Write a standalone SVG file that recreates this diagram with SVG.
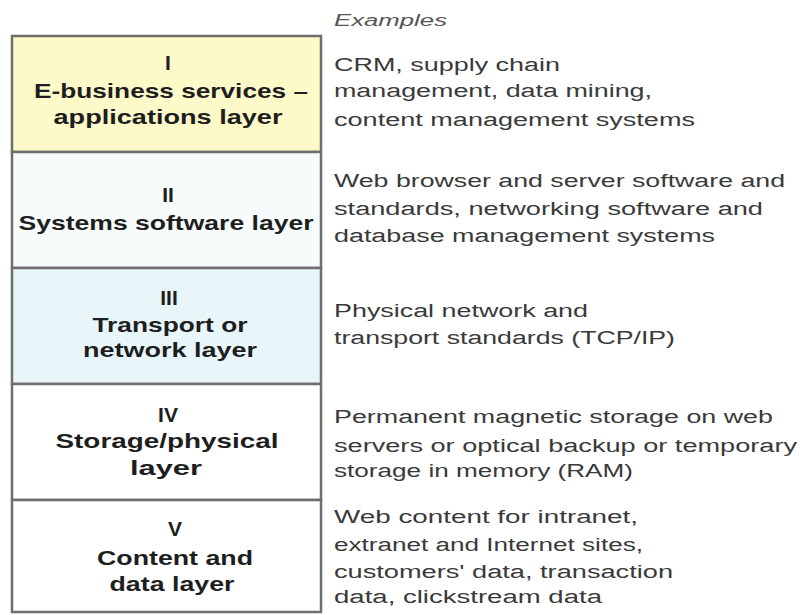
<svg xmlns="http://www.w3.org/2000/svg" width="802" height="615" viewBox="0 0 802 615">
<style>
.row{stroke:#6e6e6e;stroke-width:2.5}
.t{font-family:"Liberation Sans",Arial,sans-serif;font-weight:bold;font-size:21px;fill:#1e1e1e;text-anchor:middle}
.e{font-family:"Liberation Sans",Arial,sans-serif;font-size:18px;fill:#3a3a3a}
.h{font-family:"Liberation Sans",Arial,sans-serif;font-style:italic;font-size:16px;fill:#555}
</style>
<rect width="802" height="615" fill="#ffffff"/>
<text class="h" x="334" y="26" textLength="113" lengthAdjust="spacingAndGlyphs">Examples</text>
<g id="layer1">
<rect class="row" x="12" y="36" width="309" height="116" fill="#fdf9c9"/>
<text class="t" x="168" y="70">I</text>
<text class="t" x="171" y="98" textLength="274" lengthAdjust="spacingAndGlyphs">E-business services –</text>
<text class="t" x="168" y="124" textLength="229" lengthAdjust="spacingAndGlyphs">applications layer</text>
<text class="e" x="334" y="71" textLength="226" lengthAdjust="spacingAndGlyphs">CRM, supply chain</text>
<text class="e" x="334" y="97" textLength="318" lengthAdjust="spacingAndGlyphs">management, data mining,</text>
<text class="e" x="334" y="126" textLength="361" lengthAdjust="spacingAndGlyphs">content management systems</text>
</g>
<g id="layer2">
<rect class="row" x="12" y="152" width="309" height="116" fill="#f7fbfc"/>
<text class="t" x="168" y="202">II</text>
<text class="t" x="166" y="230" textLength="295" lengthAdjust="spacingAndGlyphs">Systems software layer</text>
<text class="e" x="334" y="187" textLength="451" lengthAdjust="spacingAndGlyphs">Web browser and server software and</text>
<text class="e" x="334" y="215" textLength="429" lengthAdjust="spacingAndGlyphs">standards, networking software and</text>
<text class="e" x="334" y="242" textLength="381" lengthAdjust="spacingAndGlyphs">database management systems</text>
</g>
<g id="layer3">
<rect class="row" x="12" y="268" width="309" height="116" fill="#e8f5f9"/>
<text class="t" x="169" y="305">III</text>
<text class="t" x="170" y="332" textLength="155" lengthAdjust="spacingAndGlyphs">Transport or</text>
<text class="t" x="170" y="357" textLength="174" lengthAdjust="spacingAndGlyphs">network layer</text>
<text class="e" x="334" y="317" textLength="254" lengthAdjust="spacingAndGlyphs">Physical network and</text>
<text class="e" x="334" y="344" textLength="341" lengthAdjust="spacingAndGlyphs">transport standards (TCP/IP)</text>
</g>
<g id="layer4">
<rect class="row" x="12" y="384" width="309" height="116" fill="#ffffff"/>
<text class="t" x="168" y="422">IV</text>
<text class="t" x="167" y="448" textLength="223" lengthAdjust="spacingAndGlyphs">Storage/physical</text>
<text class="t" x="166" y="475" textLength="72" lengthAdjust="spacingAndGlyphs">layer</text>
<text class="e" x="334" y="423" textLength="439" lengthAdjust="spacingAndGlyphs">Permanent magnetic storage on web</text>
<text class="e" x="334" y="452" textLength="463" lengthAdjust="spacingAndGlyphs">servers or optical backup or temporary</text>
<text class="e" x="334" y="477" textLength="299" lengthAdjust="spacingAndGlyphs">storage in memory (RAM)</text>
</g>
<g id="layer5">
<rect class="row" x="12" y="500" width="309" height="112" fill="#ffffff"/>
<text class="t" x="175" y="536">V</text>
<text class="t" x="175" y="565" textLength="156" lengthAdjust="spacingAndGlyphs">Content and</text>
<text class="t" x="172" y="591" textLength="125" lengthAdjust="spacingAndGlyphs">data layer</text>
<text class="e" x="334" y="523" textLength="304" lengthAdjust="spacingAndGlyphs">Web content for intranet,</text>
<text class="e" x="334" y="551" textLength="309" lengthAdjust="spacingAndGlyphs">extranet and Internet sites,</text>
<text class="e" x="334" y="578" textLength="339" lengthAdjust="spacingAndGlyphs">customers' data, transaction</text>
<text class="e" x="334" y="603" textLength="268" lengthAdjust="spacingAndGlyphs">data, clickstream data</text>
</g>
</svg>
